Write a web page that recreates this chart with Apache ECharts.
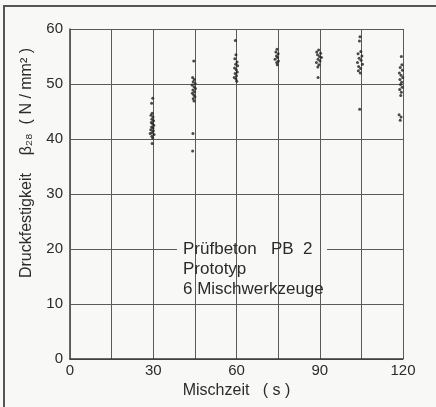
<!DOCTYPE html>
<html>
<head>
<meta charset="utf-8">
<script src="https://cdn.jsdelivr.net/npm/echarts@6/dist/echarts.min.js"></script>
<style>
html,body{margin:0;padding:0;background:#f8f8f6;}
#c{width:436px;height:407px;}
</style>
</head>
<body>
<div id="c"></div>
<script>
// Mixing time (s) groups: [time, strength N/mm2]
const mix30 = [[29.8,47.4],[29.4,46.5],[29.6,44.7],[29.2,44.3],[29.9,44.0],[29.5,43.6],[30.1,43.3],[29.3,43.0],[29.7,42.8],[30.2,42.5],[29.4,42.2],[29.9,42.0],[29.1,41.7],[30.0,41.5],[29.6,41.2],[28.9,41.0],[30.3,40.8],[29.5,40.5],[29.8,40.2],[29.6,39.2]];
const mix45 = [[44.6,54.2],[44.2,51.2],[44.8,50.8],[44.4,50.4],[45.1,50.1],[44.0,49.8],[44.7,49.5],[45.2,49.2],[44.3,48.9],[44.9,48.6],[44.1,48.3],[44.6,48.0],[45.0,47.7],[44.4,47.3],[44.7,46.9],[44.3,41.0],[44.2,37.8]];
const mix60 = [[59.6,57.9],[59.8,55.3],[59.4,54.6],[60.2,54.0],[59.7,53.6],[60.4,53.3],[59.3,52.9],[59.9,52.6],[60.3,52.2],[59.5,51.9],[60.0,51.5],[59.2,51.2],[59.8,50.9],[60.1,50.5]];
const mix75 = [[74.6,56.3],[74.2,55.8],[75.0,55.5],[74.4,55.1],[74.8,54.8],[73.9,54.5],[75.1,54.2],[74.5,53.9],[74.7,53.5]];
const mix90 = [[89.6,56.2],[88.9,55.8],[90.3,55.6],[89.2,55.3],[89.9,55.0],[90.6,54.8],[89.4,54.5],[90.1,54.2],[88.8,53.9],[89.7,53.5],[89.3,53.1],[89.4,51.2]];
const mix105 = [[104.5,58.6],[104.3,57.8],[104.8,55.9],[103.8,55.5],[105.2,55.1],[104.2,54.7],[104.9,54.3],[103.6,53.9],[105.4,53.6],[104.0,53.2],[104.7,52.8],[103.9,52.4],[104.6,52.0],[104.4,45.4]];
const mix120 = [[119.4,55.0],[119.6,53.5],[119.0,53.0],[119.8,52.5],[118.7,52.0],[119.3,51.6],[119.9,51.2],[118.9,50.8],[119.5,50.3],[119.1,49.9],[119.7,49.4],[118.8,49.0],[119.4,48.5],[119.2,47.9],[118.6,44.4],[119.3,44.0],[119.0,43.4]];
const xTickLabels = [0, 30, 60, 90, 120];
const yTickLabels = [0, 10, 20, 30, 40, 50, 60];
const xTitle = 'Mischzeit   ( s )';
const yTitle = 'Druckfestigkeit    β₂₈  ( N / mm² )';
const noteLines = ['Prüfbeton   PB  2', 'Prototyp', '6 Mischwerkzeuge'];

const FONT = 'Liberation Sans';
const INK = '#2b2b2b';
const chart = echarts.init(document.getElementById('c'), null, {renderer: 'canvas'});
const groups = [mix30, mix45, mix60, mix75, mix90, mix105, mix120];
chart.setOption({
  backgroundColor: '#f8f8f6',
  animation: false,
  grid: {left: 70, right: 33, top: 29, bottom: 48},
  xAxis: {
    type: 'value', min: 0, max: 120, interval: 15, z: 3,
    axisLine: {show: true, lineStyle: {color: '#3a3a3a', width: 1.5}},
    axisTick: {show: false},
    splitLine: {show: true, lineStyle: {color: '#5a5a5a', width: 1}},
    axisLabel: {
      color: INK, fontFamily: FONT, fontSize: 15, margin: 4,
      formatter: v => xTickLabels.includes(v) ? String(v) : ''
    },
    name: xTitle, nameLocation: 'middle', nameGap: 22,
    nameTextStyle: {color: INK, fontFamily: FONT, fontSize: 16}
  },
  yAxis: {
    type: 'value', min: 0, max: 60, interval: 10, z: 1,
    axisLine: {show: true, lineStyle: {color: '#3a3a3a', width: 1.5}},
    axisTick: {show: false},
    splitLine: {show: true, lineStyle: {color: '#5a5a5a', width: 1}},
    axisLabel: {
      color: INK, fontFamily: FONT, fontSize: 15, margin: 7,
      formatter: v => yTickLabels.includes(v) ? String(v) : ''
    }
  },
  series: groups.map(g => ({
    type: 'scatter', data: g, symbolSize: 3, z: 5,
    itemStyle: {color: '#1e1e1e'}, clip: false
  })),
  graphic: [
    {type: 'polyline', z: 0, shape: {points: [[4, 407], [4, 6], [436, 6]]},
     style: {stroke: '#555', lineWidth: 2, fill: null}},
    {type: 'rect', z: 2, shape: {x: 177, y: 246, width: 150, height: 6},
     style: {fill: '#f8f8f6'}},
    {type: 'text', z: 10, left: 183, top: 239,
     style: {text: noteLines.join('\n'), fill: INK, font: '17px "' + FONT + '"', lineHeight: 20}},
    {type: 'text', z: 10, x: 27, y: 163, rotation: Math.PI / 2,
     style: {text: yTitle, fill: INK, font: '16px "' + FONT + '"', align: 'center', verticalAlign: 'middle'}}
  ]
});
</script>
</body>
</html>
